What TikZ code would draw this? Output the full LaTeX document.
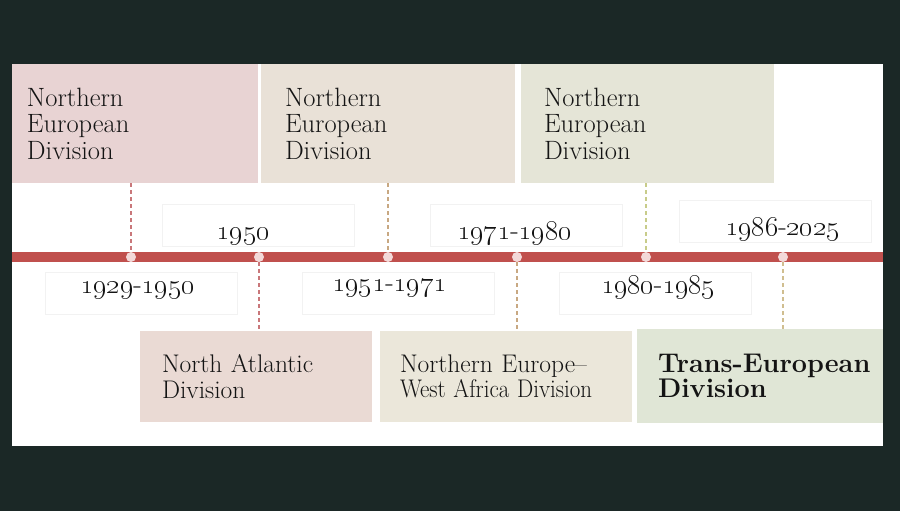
\RequirePackage{fix-cm}
\documentclass[tikz,border=0pt]{standalone}
\usepackage{graphicx}
\definecolor{bgdark}{HTML}{1B2826}
\definecolor{cA}{HTML}{E8D3D3}
\definecolor{cB}{HTML}{E9E1D7}
\definecolor{cC}{HTML}{E5E5D7}
\definecolor{cD}{HTML}{EADAD4}
\definecolor{cE}{HTML}{EBE7DA}
\definecolor{cF}{HTML}{E0E6D6}
\definecolor{barred}{HTML}{C0504D}
\definecolor{dotfill}{HTML}{F3D9D9}
\definecolor{dashred}{HTML}{C9777A}
\definecolor{dashtan}{HTML}{C8A882}
\definecolor{dashgreen}{HTML}{C8CC8A}
\definecolor{dashtan2}{HTML}{D0BE90}
\definecolor{textdark}{HTML}{141414}
\tikzset{
  divbox/.style={rectangle, inner ysep=0pt, align=left, text=textdark},
  topfont/.style={font=\fontsize{26.5}{26.5}\selectfont},
  botfont/.style={font=\fontsize{25.5}{25.5}\selectfont},
  yearbox/.style={rectangle, draw=black!5, line width=0.8pt, minimum width=192pt, minimum height=42pt},
  yeartext/.style={font=\fontsize{28}{30}\selectfont, text=textdark, inner sep=0pt, anchor=base},
  dotnode/.style={circle, fill=dotfill, minimum size=10pt, inner sep=0pt},
  dashline/.style={line width=1.2pt, dash pattern=on 4pt off 3pt},
  timebar/.style={line width=10pt, draw=barred}
}
\begin{document}
\begin{tikzpicture}[x=1pt,y=-1pt]
\useasboundingbox (0,0) rectangle (900,511);
\fill[bgdark] (0,0) rectangle (900,511);
\fill[white] (12,64) rectangle (883,446);

% top division boxes
\node[divbox, topfont, fill=cA, inner xsep=15pt, text width=216pt, minimum height=119pt] (nA) at (135,123.5) {Northern\\European\\Division};
\node[divbox, topfont, fill=cB, inner xsep=24pt, text width=206pt, minimum height=119pt] (nB) at (388,123.5) {Northern\\European\\Division};
\node[divbox, topfont, fill=cC, inner xsep=23pt, text width=207pt, minimum height=119pt] (nC) at (647.5,123.5) {Northern\\European\\Division};

% bottom division boxes
\node[divbox, botfont, fill=cD, inner xsep=22pt, text width=188pt, minimum height=91pt] (nD) at (256,376.5) {North Atlantic\\Division};
\node[divbox, botfont, fill=cE, inner xsep=20pt, text width=212pt, minimum height=91pt] (nE) at (506,376.5) {Northern Europe--\\\scalebox{0.9}[1]{West Africa Division}};
\node[divbox, font=\fontsize{27}{25}\selectfont\bfseries, fill=cF, inner xsep=21pt, text width=204pt, minimum height=94pt] (nF) at (760,376) {\mbox{Trans-European}\\Division};

% year boxes
\node[yearbox] (yb1) at (258,225) {};
\node[yearbox] (yb2) at (526,225) {};
\node[yearbox] (yb3) at (775.5,221.5) {};
\node[yearbox] (yb4) at (141.5,293) {};
\node[yearbox] (yb5) at (398,293) {};
\node[yearbox] (yb6) at (655,293) {};

% timeline bar
\coordinate (barL) at (12,257);
\coordinate (barR) at (883,257);
\draw[timebar] (barL) -- (barR);

% dots
\node[dotnode] (d1) at (131,257) {};
\node[dotnode] (d2) at (259,257) {};
\node[dotnode] (d3) at (388,257) {};
\node[dotnode] (d4) at (517,257) {};
\node[dotnode] (d5) at (646,257) {};
\node[dotnode] (d6) at (783,257) {};

% dashed connectors
\draw[dashline, draw=dashred] (nA.south -| d1) -- (d1.north);
\draw[dashline, draw=dashtan] (nB.south -| d3) -- (d3.north);
\draw[dashline, draw=dashgreen] (nC.south -| d5) -- (d5.north);
\draw[dashline, draw=dashred] (d2.south) -- (d2 |- nD.north);
\draw[dashline, draw=dashtan] (d4.south) -- (d4 |- nE.north);
\draw[dashline, draw=dashtan2] (d6.south) -- (d6 |- nF.north);

% year texts
\node[yeartext] (t1) at (243,239) {\oldstylenums{1950}};
\node[yeartext] (t2) at (514.5,239) {\oldstylenums{1971}-\oldstylenums{1980}};
\node[yeartext] (t3) at (782.5,235) {\oldstylenums{1986}-\oldstylenums{2025}};
\node[yeartext] (t4) at (137.5,293) {\oldstylenums{1929}-\oldstylenums{1950}};
\node[yeartext] (t5) at (389.5,291) {\oldstylenums{1951}-\oldstylenums{1971}};
\node[yeartext] (t6) at (658,293) {\oldstylenums{1980}-\oldstylenums{1985}};
\end{tikzpicture}
\end{document}
